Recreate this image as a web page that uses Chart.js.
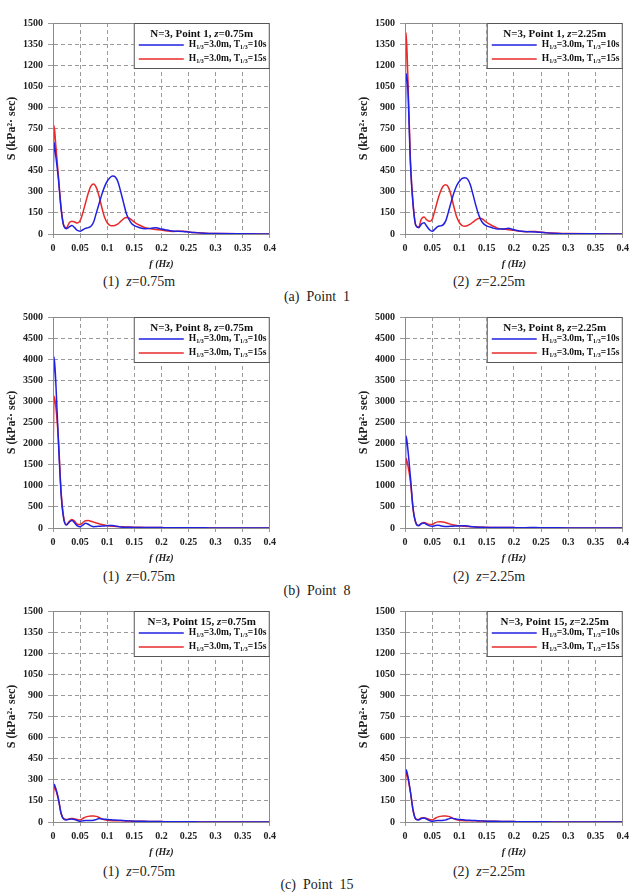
<!DOCTYPE html>
<html>
<head>
<meta charset="utf-8">
<script src="https://cdn.jsdelivr.net/npm/chart.js@4.4.1/dist/chart.umd.min.js"></script>
<style>
    body { margin: 0; background: #fff; width: 634px; height: 895px; overflow: hidden; position: relative; font-family: "Liberation Serif", serif; color: #222; }
    canvas { position: absolute; }
    .cap { position: absolute; font-size: 14px; line-height: 16px; white-space: nowrap; transform: translateX(-50%); }
</style>
</head>
<body>
<canvas id="a1" width="280" height="274" style="left:0;top:0"></canvas>
<canvas id="a2" width="281" height="274" style="left:352px;top:0"></canvas>
<canvas id="b1" width="280" height="274" style="left:0;top:294px"></canvas>
<canvas id="b2" width="281" height="274" style="left:352px;top:294px"></canvas>
<canvas id="c1" width="280" height="274" style="left:0;top:588px"></canvas>
<canvas id="c2" width="281" height="274" style="left:352px;top:588px"></canvas>

<div class="cap" style="left:139px;top:274px">(1)&nbsp; <i>z</i>=0.75m</div>
<div class="cap" style="left:489px;top:274px">(2)&nbsp; <i>z</i>=2.25m</div>
<div class="cap" style="left:317px;top:289px">(a)&nbsp; Point&nbsp; 1</div>
<div class="cap" style="left:139px;top:569px">(1)&nbsp; <i>z</i>=0.75m</div>
<div class="cap" style="left:489px;top:569px">(2)&nbsp; <i>z</i>=2.25m</div>
<div class="cap" style="left:317px;top:583px">(b)&nbsp; Point&nbsp; 8</div>
<div class="cap" style="left:139px;top:864px">(1)&nbsp; <i>z</i>=0.75m</div>
<div class="cap" style="left:489px;top:864px">(2)&nbsp; <i>z</i>=2.25m</div>
<div class="cap" style="left:317px;top:877px">(c)&nbsp; Point&nbsp; 15</div>

<script>
//Frequency axis shared by every panel (Hz)
const freq = [0, 0.002, 0.005, 0.01, 0.015, 0.02, 0.025, 0.03, 0.035, 0.04, 0.045, 0.05, 0.055, 0.06, 0.065, 0.07, 0.075, 0.08, 0.085, 0.09, 0.095, 0.1, 0.105, 0.11, 0.115, 0.12, 0.125, 0.13, 0.135, 0.14, 0.145, 0.15, 0.16, 0.17, 0.18, 0.19, 0.2, 0.21, 0.22, 0.24, 0.25, 0.26, 0.28, 0.3, 0.35, 0.4];

//Point 1
const p1z075T10 = [350, 650, 560, 390, 175, 55, 38, 50, 60, 45, 25, 20, 30, 40, 45, 55, 85, 150, 215, 280, 335, 375, 400, 412, 405, 370, 300, 225, 150, 105, 75, 60, 45, 38, 40, 45, 35, 28, 22, 18, 14, 10, 5, 3, 1, 0];
const p1z075T15 = [400, 770, 640, 410, 185, 60, 45, 80, 90, 85, 78, 95, 150, 220, 290, 340, 355, 330, 270, 190, 120, 80, 62, 58, 62, 72, 90, 108, 118, 115, 100, 85, 62, 45, 38, 32, 28, 22, 18, 20, 15, 10, 5, 3, 1, 0];
const p1z225T10 = [590, 1140, 1050, 500, 200, 60, 45, 70, 80, 55, 30, 20, 35, 52, 58, 65, 95, 160, 230, 295, 345, 375, 395, 400, 390, 350, 280, 205, 140, 95, 70, 58, 45, 35, 35, 40, 30, 22, 18, 15, 12, 8, 4, 2, 1, 0];
const p1z225T15 = [760, 1430, 1150, 520, 210, 60, 50, 105, 120, 100, 90, 105, 170, 240, 300, 340, 350, 330, 270, 190, 120, 80, 60, 55, 60, 70, 85, 100, 110, 110, 98, 82, 60, 42, 35, 30, 26, 20, 16, 18, 13, 9, 5, 3, 1, 0];

//Point 8
const p8z075T10 = [3000, 4050, 3500, 2050, 800, 200, 70, 140, 180, 120, 50, 30, 70, 110, 90, 50, 30, 35, 40, 45, 50, 55, 62, 60, 50, 35, 25, 20, 18, 16, 15, 14, 12, 10, 10, 10, 9, 8, 7, 6, 5, 4, 3, 2, 1, 0];
const p8z075T15 = [1550, 3120, 2900, 2100, 850, 230, 80, 160, 200, 160, 90, 80, 130, 170, 175, 160, 140, 120, 100, 85, 70, 55, 45, 40, 38, 35, 30, 28, 25, 22, 20, 18, 15, 13, 12, 10, 9, 8, 7, 6, 5, 4, 3, 2, 1, 0];
const p8z225T10 = [1100, 2180, 1900, 1200, 450, 120, 55, 100, 120, 80, 50, 40, 55, 65, 55, 40, 35, 38, 42, 45, 48, 52, 55, 52, 45, 35, 28, 22, 18, 16, 15, 14, 12, 10, 10, 10, 9, 8, 8, 10, 8, 5, 3, 2, 1, 0];
const p8z225T15 = [860, 1650, 1500, 1100, 430, 120, 60, 110, 130, 110, 80, 80, 120, 145, 150, 140, 125, 105, 85, 70, 60, 50, 45, 40, 36, 32, 28, 25, 22, 20, 18, 16, 14, 12, 11, 10, 9, 8, 7, 6, 5, 4, 3, 2, 1, 0];

//Point 15
const p15z075T10 = [220, 268, 240, 165, 60, 20, 15, 20, 22, 18, 10, 5, 8, 10, 10, 10, 12, 18, 24, 22, 20, 18, 16, 15, 14, 13, 12, 10, 9, 8, 7, 6, 5, 5, 4, 3, 3, 2, 2, 1, 1, 1, 0, 0, 0, 0];
const p15z075T15 = [140, 245, 230, 160, 60, 22, 18, 22, 25, 22, 18, 15, 25, 35, 40, 42, 42, 40, 32, 22, 16, 12, 10, 9, 9, 8, 8, 8, 7, 7, 6, 6, 5, 4, 4, 3, 3, 2, 2, 1, 1, 1, 0, 0, 0, 0];
const p15z225T10 = [300, 372, 330, 215, 80, 20, 15, 25, 28, 20, 10, 5, 8, 10, 10, 12, 15, 22, 28, 24, 20, 18, 16, 14, 13, 12, 11, 10, 9, 8, 7, 6, 5, 5, 4, 3, 3, 2, 2, 1, 1, 1, 0, 0, 0, 0];
const p15z225T15 = [185, 345, 320, 210, 80, 20, 18, 28, 30, 25, 18, 15, 25, 35, 40, 42, 42, 40, 32, 22, 16, 12, 10, 9, 9, 8, 8, 8, 7, 7, 6, 6, 5, 4, 4, 3, 3, 2, 2, 1, 1, 1, 0, 0, 0, 0];

const blue = "#2020e0";
const red = "#e82a2a";
const serif = "'Liberation Serif', 'Times New Roman', serif";

function toXY(values) {
    return values.map(function (v, i) { return { x: freq[i], y: v }; });
}

//legend box in the top right of the plot, with subscripts
const boxLegend = {
    id: 'boxLegend',
    afterDatasetsDraw: function (chart, args, opts) {
        const ctx = chart.ctx;
        const a = chart.chartArea;
        const w = 136, h = 45;
        const left = a.right - w, top = a.top;

        ctx.save();
        ctx.fillStyle = "#fff";
        ctx.fillRect(left, top, w, h);
        ctx.strokeStyle = "#555";
        ctx.lineWidth = 1;
        ctx.strokeRect(left + 0.5, top + 0.5, w - 1, h);

        //title
        const parts = [
            ["N=3, Point " + opts.point + ", ", "bold 11px " + serif],
            ["z", "italic bold 11px " + serif],
            ["=" + opts.z + "m", "bold 11px " + serif]
        ];
        let total = 0;
        parts.forEach(function (p) { ctx.font = p[1]; total += ctx.measureText(p[0]).width; });
        let x = left + w / 2 - total / 2;
        ctx.fillStyle = "#111";
        ctx.textBaseline = "middle";
        parts.forEach(function (p) {
            ctx.font = p[1];
            ctx.fillText(p[0], x, top + 11);
            x += ctx.measureText(p[0]).width;
        });

        //series rows
        const rows = [[blue, "10s", 22], [red, "15s", 36]];
        rows.forEach(function (r) {
            const y = top + r[2];
            ctx.strokeStyle = r[0];
            ctx.lineWidth = 1.5;
            ctx.beginPath();
            ctx.moveTo(left + 5, y);
            ctx.lineTo(left + 50, y);
            ctx.stroke();

            const bits = [["H", 0], ["1/3", 1], ["=3.0m, T", 0], ["1/3", 1], ["=" + r[1], 0]];
            let tx = left + 55;
            bits.forEach(function (b) {
                ctx.font = b[1] ? "bold 6px " + serif : "bold 9.5px " + serif;
                ctx.fillText(b[0], tx, b[1] ? y + 2.5 : y);
                tx += ctx.measureText(b[0]).width;
            });
        });
        ctx.restore();
    }
};

//solid frame round the plot area
const frame = {
    id: 'frame',
    afterDatasetsDraw: function (chart) {
        const a = chart.chartArea;
        const ctx = chart.ctx;
        ctx.save();
        ctx.strokeStyle = "#8a8a8a";
        ctx.lineWidth = 1;
        ctx.strokeRect(Math.round(a.left) + 0.5, Math.round(a.top) + 0.5, Math.round(a.right - a.left) - 1, Math.round(a.bottom - a.top));
        ctx.restore();
    }
};

function createSpectrum(id, point, z, yMax, yStep, seriesT10, seriesT15) {
    return new Chart(document.getElementById(id), {
        type: 'line',
        data: {
            datasets: [
                {
                    data: toXY(seriesT10),
                    borderColor: blue,
                    borderWidth: 1.5,
                    pointRadius: 0,
                    cubicInterpolationMode: 'monotone',
                    fill: false
                },
                {
                    data: toXY(seriesT15),
                    borderColor: red,
                    borderWidth: 1.5,
                    pointRadius: 0,
                    cubicInterpolationMode: 'monotone',
                    fill: false
                }
            ]
        },
        options: {
            responsive: false,
            animation: false,
            layout: { padding: { top: 23, right: 10, left: 0, bottom: 0 } },
            plugins: {
                legend: { display: false },
                tooltip: { enabled: false },
                boxLegend: { point: point, z: z }
            },
            scales: {
                x: {
                    type: 'linear',
                    min: 0,
                    max: 0.4,
                    afterFit: function (scale) { scale.height = 40; },
                    ticks: {
                        stepSize: 0.05,
                        padding: 4,
                        color: "#222",
                        font: { family: serif, size: 10, weight: 'bold' },
                        callback: function (v) { return String(Math.round(v * 100) / 100); }
                    },
                    grid: { color: "#9a9a9a", tickLength: 4, tickBorderDash: [], drawOnChartArea: true },
                    border: { display: true, color: "#8a8a8a", dash: [4, 3] },
                    title: {
                        display: true,
                        text: "f (Hz)",
                        color: "#222",
                        padding: { top: 0, bottom: 4 },
                        font: { family: serif, size: 10, weight: 'bold', style: 'italic' }
                    }
                },
                y: {
                    min: 0,
                    max: yMax,
                    afterFit: function (scale) { scale.width = 53; },
                    ticks: {
                        stepSize: yStep,
                        padding: 5,
                        color: "#222",
                        font: { family: serif, size: 10, weight: 'bold' },
                        callback: function (v) { return String(v); }
                    },
                    grid: { color: "#9a9a9a", tickLength: 5, tickBorderDash: [] },
                    border: { display: true, color: "#8a8a8a", dash: [4, 3] },
                    title: {
                        display: true,
                        text: "S (kPa²· sec)",
                        color: "#222",
                        padding: { top: 5, bottom: 0 },
                        font: { family: serif, size: 12, weight: 'bold' }
                    }
                }
            }
        },
        plugins: [frame, boxLegend]
    });
}

createSpectrum('a1', '1', '0.75', 1500, 150, p1z075T10, p1z075T15);
createSpectrum('a2', '1', '2.25', 1500, 150, p1z225T10, p1z225T15);
createSpectrum('b1', '8', '0.75', 5000, 500, p8z075T10, p8z075T15);
createSpectrum('b2', '8', '2.25', 5000, 500, p8z225T10, p8z225T15);
createSpectrum('c1', '15', '0.75', 1500, 150, p15z075T10, p15z075T15);
createSpectrum('c2', '15', '2.25', 1500, 150, p15z225T10, p15z225T15);
</script>
</body>
</html>
